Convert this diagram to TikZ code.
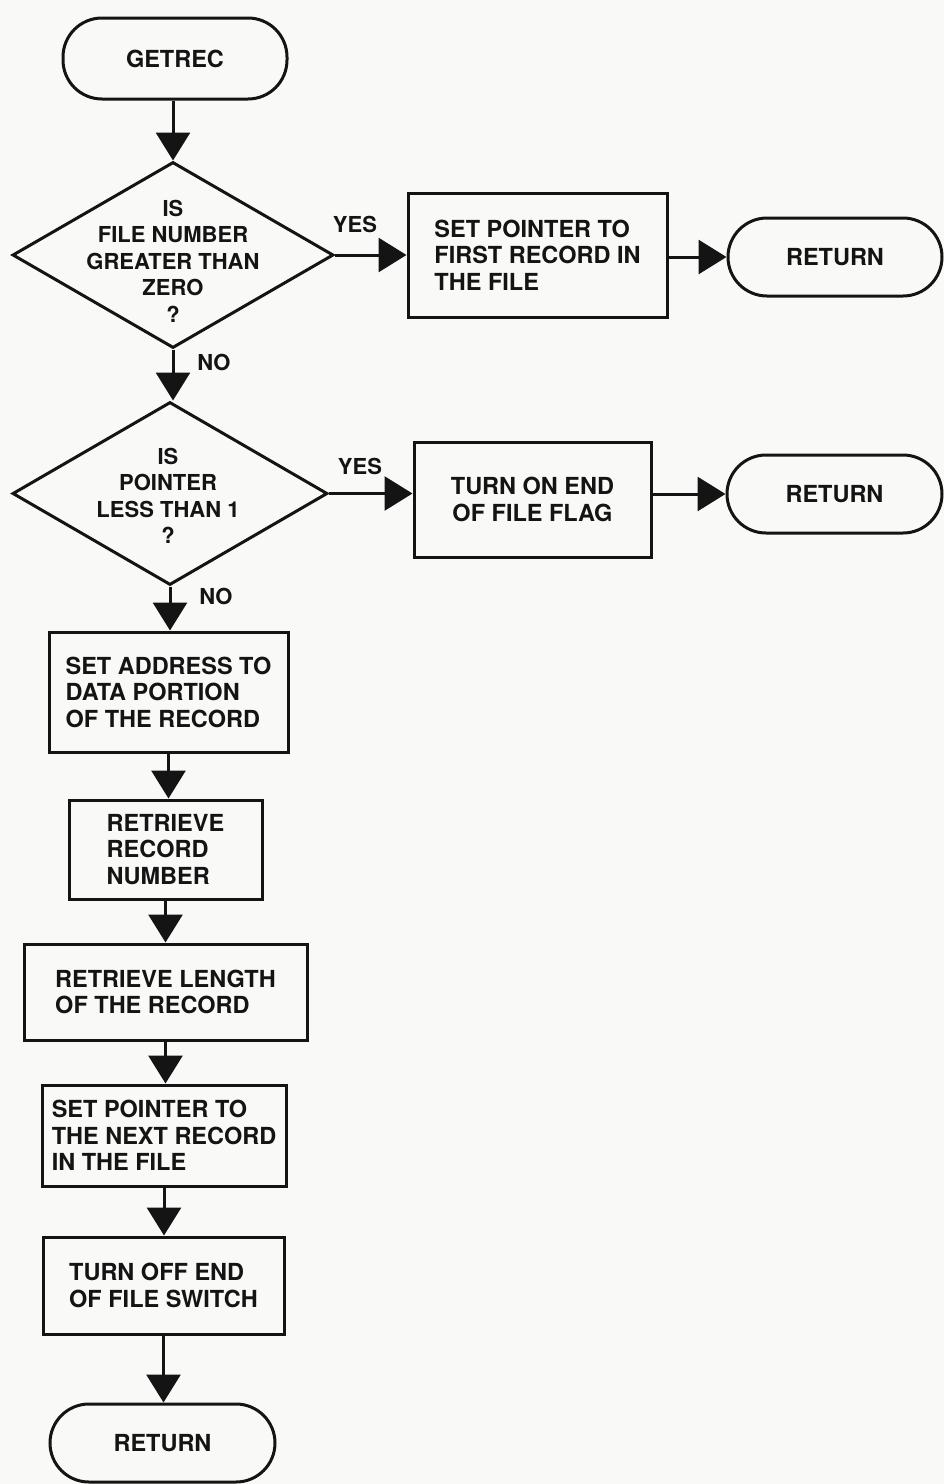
\documentclass[tikz,border=0pt]{standalone}
\usepackage{fontspec}
\setmainfont{TeX Gyre Heros}
\usetikzlibrary{shapes.geometric,arrows.meta}
\definecolor{ink}{rgb}{0.08,0.08,0.08}
\definecolor{paper}{rgb}{0.975,0.975,0.97}
\begin{document}
\begin{tikzpicture}[x=1pt,y=-1pt,
  every node/.style={text=ink, font=\bfseries\fontsize{23.5}{26.5}\selectfont},
  term/.style={draw=ink, line width=3pt, rectangle, rounded corners=39pt, inner sep=0pt},
  proc/.style={draw=ink, line width=3pt, rectangle, align=left, inner sep=0pt},
  decision/.style={draw=ink, line width=3pt, diamond, inner sep=0pt},
  dtext/.style={align=center, inner sep=0pt, font=\bfseries\fontsize{22}{26.5}\selectfont},
  lbl/.style={inner sep=0pt, font=\bfseries\fontsize{22}{24}\selectfont},
  flow/.style={draw=ink, line width=3pt, -{Triangle[width=34pt,length=28pt]}}
]
\fill[paper] (0,0) rectangle (944,1484);
\useasboundingbox (0,0) rectangle (944,1484);

% main column
\node[term, minimum width=224pt, minimum height=81pt] (start) at (175,58.5) {GETREC};
\node[decision, minimum width=321pt, minimum height=186pt] (d1) at (173,255) {};
\node[dtext] (d1t) at (173,261) {IS\\FILE NUMBER\\GREATER THAN\\ZERO\\?};
\node[decision, minimum width=315pt, minimum height=183pt] (d2) at (170,493.5) {};
\node[dtext] (d2t) at (168,496) {IS\\POINTER\\LESS THAN 1\\?};

\node[proc, minimum width=239pt, minimum height=120pt] (b3) at (168.5,692)
  {SET ADDRESS TO\\DATA PORTION\\OF THE RECORD};
\node[proc, minimum width=193pt, minimum height=99pt] (b4) at (165.5,849.5)
  {RETRIEVE\\RECORD\\NUMBER};
\node[proc, minimum width=283pt, minimum height=96pt] (b5) at (165.5,992)
  {RETRIEVE LENGTH\\OF THE RECORD};
\node[proc, minimum width=244pt, minimum height=101pt] (b6) at (164,1135.5)
  {SET POINTER TO\\THE NEXT RECORD\\IN THE FILE};
\node[proc, minimum width=241pt, minimum height=97pt] (b7) at (163.5,1285.5)
  {TURN OFF END\\OF FILE SWITCH};
\node[term, minimum width=225pt, minimum height=78pt] (r3) at (162.5,1443) {RETURN};

% right-hand branches
\node[proc, minimum width=259pt, minimum height=124pt] (b1) at (537.5,255)
  {SET POINTER TO\\FIRST RECORD IN\\THE FILE};
\node[term, minimum width=214pt, minimum height=78pt] (r1) at (835,257) {RETURN};
\node[proc, align=center, minimum width=237pt, minimum height=115pt] (b2) at (532.5,499.5)
  {TURN ON END\\OF FILE FLAG};
\node[term, minimum width=215pt, minimum height=78pt] (r2) at (834.5,494) {RETURN};

% branch labels
\node[lbl] (y1) at (355,224) {YES};
\node[lbl] (n1) at (214,362) {NO};
\node[lbl] (y2) at (360,466) {YES};
\node[lbl] (n2) at (216,596) {NO};

% connectors
\draw[flow] (d1.north |- start.south) -- (d1.north);
\draw[flow] (d1.east) -- (d1.east -| b1.west);
\draw[flow] (b1.east |- r1.west) -- (r1.west);
\draw[flow] (d1.south) -- (d1.south |- d2.north);
\draw[flow] (d2.east) -- (d2.east -| b2.west);
\draw[flow] (b2.east |- r2.west) -- (r2.west);
\draw[flow] (d2.south) -- (d2.south |- b3.north);
\draw[flow] (b3.south) -- (b3.south |- b4.north);
\draw[flow] (b4.south) -- (b4.south |- b5.north);
\draw[flow] (b5.south) -- (b5.south |- b6.north);
\draw[flow] (b6.south) -- (b6.south |- b7.north);
\draw[flow] (b7.south) -- (b7.south |- r3.north);
\end{tikzpicture}
\end{document}
